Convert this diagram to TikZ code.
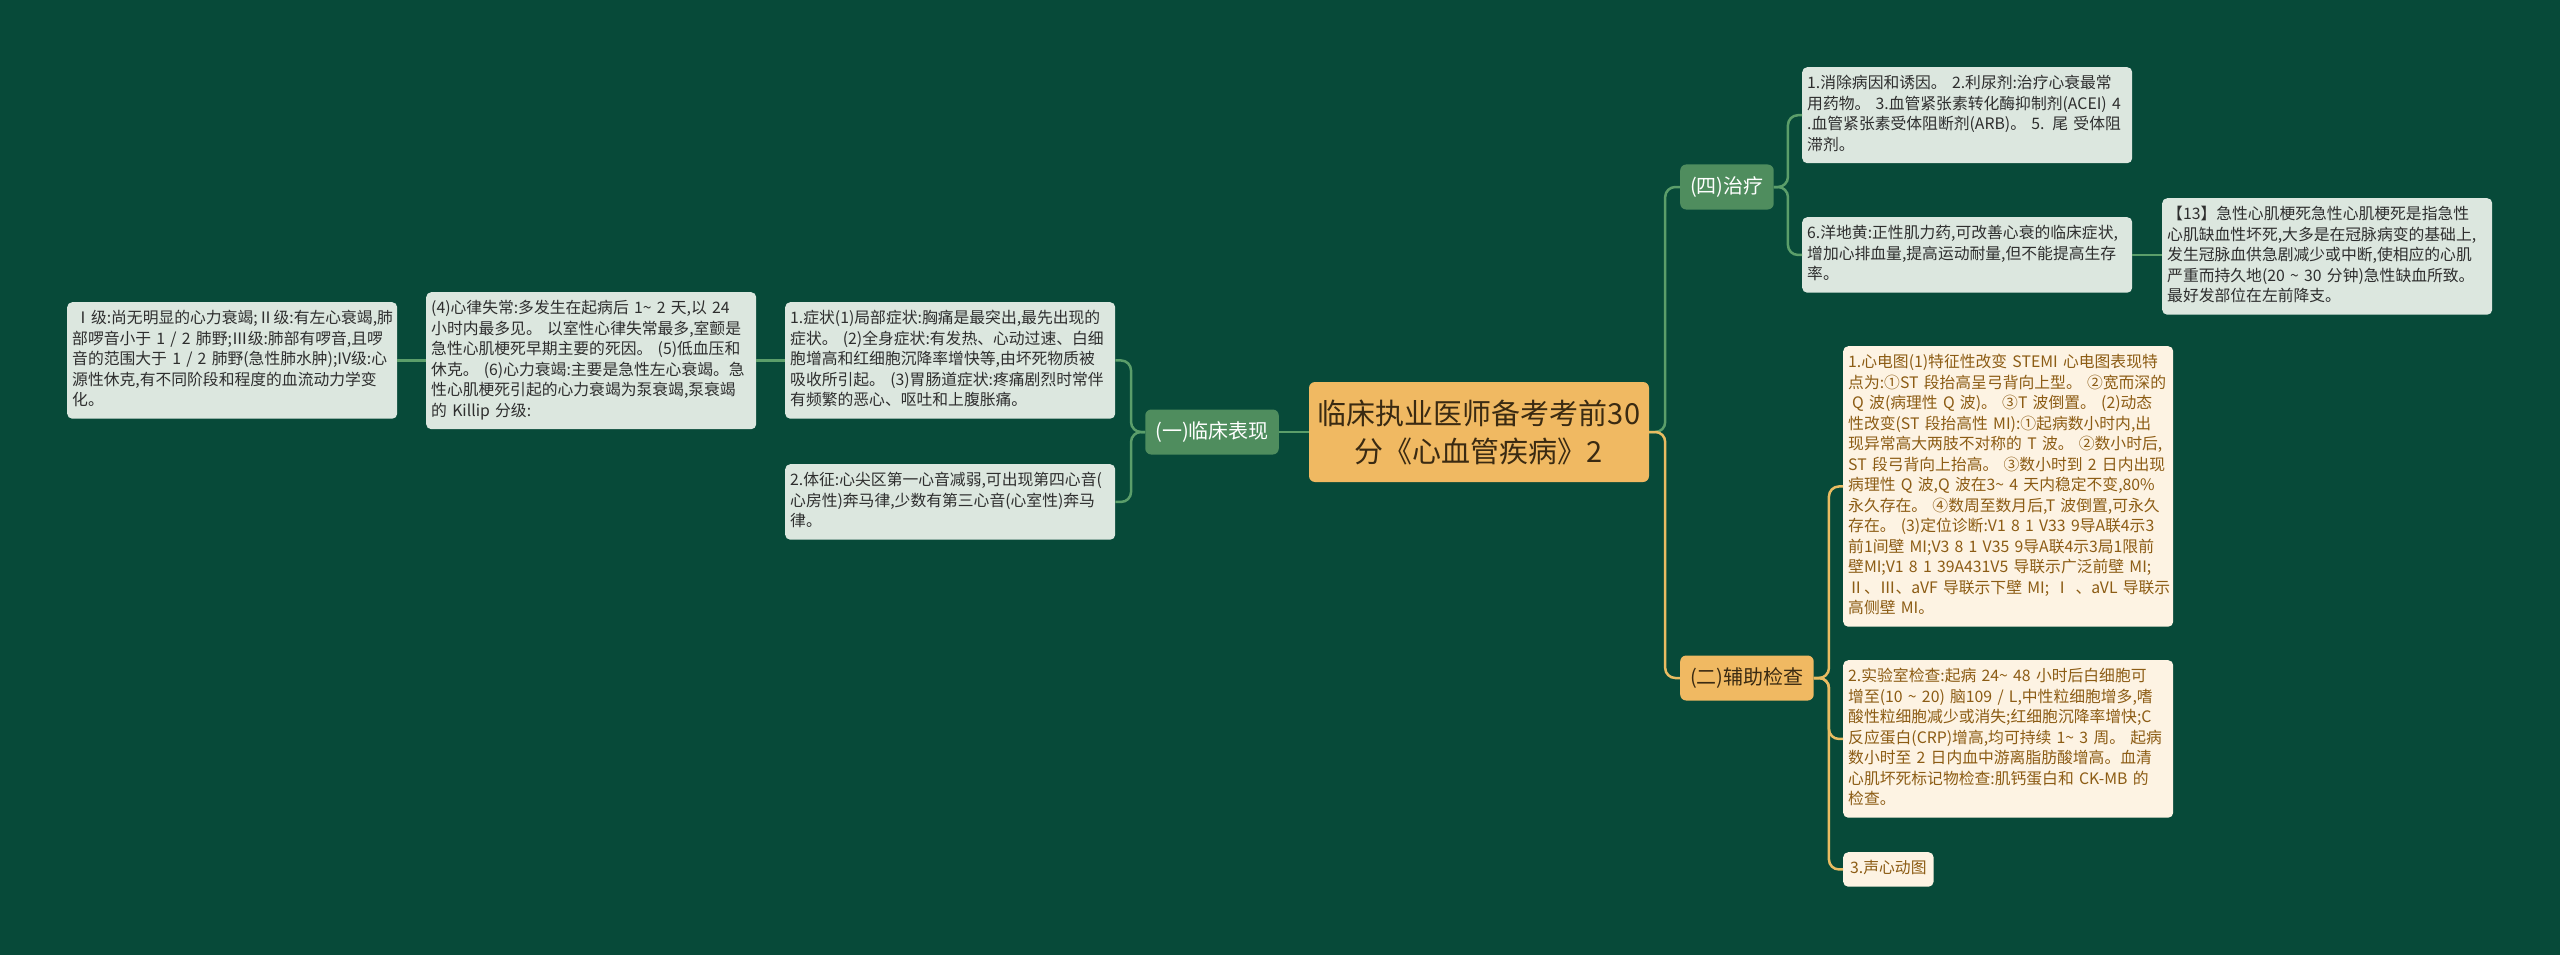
\documentclass[tikz,border=0pt]{standalone}
\usepackage{fontspec}
\setmainfont{Noto Sans CJK SC}
\definecolor{bgc}{HTML}{074A39}
\definecolor{orc}{HTML}{F0B962}
\definecolor{darkt}{HTML}{3A2A12}
\definecolor{midg}{HTML}{4F8D5E}
\definecolor{leafc}{HTML}{DCE7DF}
\definecolor{leaft}{HTML}{2E2E2E}
\definecolor{creamc}{HTML}{FDF3E3}
\definecolor{brownt}{HTML}{8C5C14}
\definecolor{lineg}{HTML}{5B9E6A}
\definecolor{lineo}{HTML}{E9BC62}
\tikzset{
  basebox/.style={draw=none, fill=leafc, rounded corners=5pt, text=leaft, inner xsep=5pt, inner ysep=7pt,
    align=left, anchor=north west, font=\fontsize{15.8}{20.5}\selectfont,
    execute at begin node=\strut, execute at end node=\strut},
  leaf/.style={basebox, text width=320pt},
  cleaf/.style={leaf, fill=creamc, text=brownt},
  cbox/.style={basebox, inner xsep=7pt, fill=creamc, text=brownt},
  branchg/.style={fill=midg, text=white, rounded corners=6pt, inner xsep=10pt, minimum height=45pt,
    font=\fontsize{20}{24}\selectfont, anchor=west},
  brancho/.style={branchg, fill=orc, text=darkt},
  central/.style={fill=orc, text=darkt, rounded corners=6pt, minimum width=340pt, minimum height=100pt,
    align=center, font=\fontsize{29}{38}\selectfont},
  gline/.style={draw=lineg, line width=2.5pt, rounded corners=10pt},
  oline/.style={gline, draw=lineo},
}
\begin{document}
\begin{tikzpicture}[x=1pt,y=-1pt]
\fill[bgc] (0,0) rectangle (2560,955);
\useasboundingbox (0,0) rectangle (2560,955);

% central
\node[central] (c) at (1479,432) {临床执业医师备考考前30\\分《心血管疾病》2};

% left branch
\node[branchg, anchor=center] (b1) at (1212,432) {(一)临床表现};
\node[leaf] (l1) at (785,302) {1.症状(1)局部症状:胸痛是最突出,最先出现的\\
症状。 (2)全身症状:有发热、心动过速、白细\\
胞增高和红细胞沉降率增快等,由坏死物质被\\
吸收所引起。 (3)胃肠道症状:疼痛剧烈时常伴\\
有频繁的恶心、呕吐和上腹胀痛。};
\node[leaf] (l2) at (785,464) {2.体征:心尖区第一心音减弱,可出现第四心音(\\
心房性)奔马律,少数有第三心音(心室性)奔马\\
律。};
\node[leaf] (l4) at (426,292) {(4)心律失常:多发生在起病后 1\textasciitilde{} 2 天,以 24\\
小时内最多见。 以室性心律失常最多,室颤是\\
急性心肌梗死早期主要的死因。 (5)低血压和\\
休克。 (6)心力衰竭:主要是急性左心衰竭。急\\
性心肌梗死引起的心力衰竭为泵衰竭,泵衰竭\\
的 Killip 分级:};
\node[leaf] (lI) at (67,302) {\hspace{3pt}Ⅰ级:尚无明显的心力衰竭;Ⅱ级:有左心衰竭,肺\\
部啰音小于 1 / 2 肺野;Ⅲ级:肺部有啰音,且啰\\
音的范围大于 1 / 2 肺野(急性肺水肿);IV级:心\\
源性休克,有不同阶段和程度的血流动力学变\\
化。};

\draw[gline] (b1.west) -- ++(-14,0) |- (l1.east);
\draw[gline] (b1.west) -- ++(-14,0) |- (l2.east);
\draw[gline] (l1.west) -- (l1.west -| l4.east);
\draw[gline] (l4.west) -- (l4.west -| lI.east);
\draw[gline] (b1.east) -- (c.west);

% right: treatment
\node[branchg] (b4) at (1680,187) {(四)治疗};
\node[leaf] (t1) at (1802,67) {1.消除病因和诱因。 2.利尿剂:治疗心衰最常\\
用药物。 3.血管紧张素转化酶抑制剂(ACEI) 4\\
.血管紧张素受体阻断剂(ARB)。 5. 尾 受体阻\\
滞剂。};
\node[leaf] (t2) at (1802,217) {6.洋地黄:正性肌力药,可改善心衰的临床症状,\\
增加心排血量,提高运动耐量,但不能提高生存\\
率。};
\node[leaf] (t3) at (2162,198) {【13】急性心肌梗死急性心肌梗死是指急性\\
心肌缺血性坏死,大多是在冠脉病变的基础上,\\
发生冠脉血供急剧减少或中断,使相应的心肌\\
严重而持久地(20~\textasciitilde{}~30~分钟)急性缺血所致。\\
最好发部位在左前降支。};

\draw[gline] (c.east) -- ++(16,0) |- (b4.west);
\draw[gline] (b4.east) -- ++(14,0) |- (t1.west);
\draw[gline] (b4.east) -- ++(14,0) |- (t2.west);
\draw[gline] (t2.east) -- (t2.east -| t3.west);

% right: exams
\node[brancho] (b2) at (1680,678) {(二)辅助检查};
\node[cleaf] (e1) at (1843,346) {1.心电图(1)特征性改变~STEMI~心电图表现特\\
点为:①ST 段抬高呈弓背向上型。 ②宽而深的\\
\hspace{4pt}Q 波(病理性 Q 波)。 ③T 波倒置。 (2)动态\\
性改变(ST 段抬高性 MI):①起病数小时内,出\\
现异常高大两肢不对称的 T 波。 ②数小时后,\\
ST 段弓背向上抬高。 ③数小时到 2 日内出现\\
病理性 Q 波,Q 波在3\textasciitilde{} 4 天内稳定不变,80\%\\
永久存在。 ④数周至数月后,T 波倒置,可永久\\
存在。 (3)定位诊断:V1 8 1 V33 9导A联4示3\\
前1间壁 MI;V3 8 1 V35 9导A联4示3局1限前\\
壁MI;V1~8~1~39A431V5~导联示广泛前壁~MI;\\
Ⅱ、Ⅲ、aVF~导联示下壁~MI;~Ⅰ~、aVL~导联示\\
高侧壁 MI。};
\node[cleaf] (e2) at (1843,660) {2.实验室检查:起病 24\textasciitilde{} 48 小时后白细胞可\\
增至(10 \textasciitilde{} 20) 脑109 / L,中性粒细胞增多,嗜\\
酸性粒细胞减少或消失;红细胞沉降率增快;C\\
反应蛋白(CRP)增高,均可持续 1\textasciitilde{} 3 周。 起病\\
数小时至 2 日内血中游离脂肪酸增高。血清\\
心肌坏死标记物检查:肌钙蛋白和 CK-MB 的\\
检查。};
\node[cbox] (e3) at (1843,852) {3.声心动图};

\draw[oline] (c.east) -- ++(16,0) |- (b2.west);
\draw[oline] (b2.east) -- ++(15,0) |- (e1.west);
\draw[oline] (b2.east) -- ++(15,0) |- (e2.west);
\draw[oline] (b2.east) -- ++(15,0) |- (e3.west);
\end{tikzpicture}
\end{document}
